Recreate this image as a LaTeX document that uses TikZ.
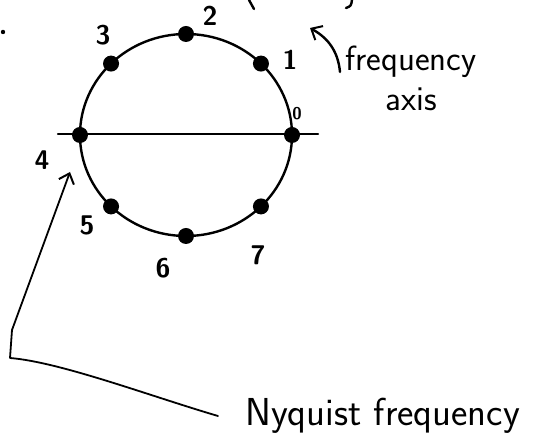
\documentclass[tikz,border=0pt]{standalone}
\usetikzlibrary{arrows.meta,calc}
\tikzset{
  pen/.style={line width=2.4pt, line cap=round, line join=round},
  thinpen/.style={line width=1.8pt, line cap=round, line join=round},
  dot/.style={circle, fill, inner sep=0pt, minimum size=16pt},
  num/.style={font=\sffamily\bfseries\fontsize{27}{29}\selectfont},
  word/.style={font=\sffamily\fontsize{35}{40}\selectfont},
  barb/.style={-{Straight Barb[length=9pt,width=16pt,line width=2pt]}},
}
\begin{document}
\begin{tikzpicture}[x=1pt,y=1pt]
\useasboundingbox (0,0) rectangle (559,446);
\coordinate (c) at (186,311);
\draw[pen] (c) ellipse (106 and 101);
\draw[pen] (58,312) -- (318,312);
\foreach \k in {0,...,7}
  \node[dot] (p\k) at ($(c)+(\k*45:106 and 101)$) {};
% sample numbers
\node[num,font=\sffamily\bfseries\fontsize{17}{19}\selectfont] (n0) at (297,332) {0};
\node[num] (n1) at (290,386) {1};
\node[num] (n2) at (210,430) {2};
\node[num] (n3) at (103,411) {3};
\node[num] (n4) at (42,286) {4};
\node[num] (n5) at (87,221) {5};
\node[num] (n6) at (163,178) {6};
\node[num] (n7) at (258,191) {7};
% bits cut off at the top
\fill (3,414) circle (2.2);
\draw[pen] (249,446) -- (254,437);
\draw[pen] (352,446) .. controls (351,440) .. (346,438);
% frequency axis
\node[word, align=center, inner sep=0pt] (axis) at (411,368) {frequency\\axis};
\coordinate (axtail) at (340,374);
\coordinate (axtip) at (310,418);
\draw[pen,barb] (axtail) .. controls (338,395) and (328,408) .. (axtip);
% nyquist
\node[word, font=\sffamily\fontsize{39}{44}\selectfont, anchor=base west, inner sep=0pt]
  (nyq) at (245,20) {Nyquist frequency};
\coordinate (nqtail) at (218,30);
\coordinate (nqtip) at (70,274);
\draw[thinpen,barb] (nqtail) .. controls (150,50) and (60,84) .. (10,88)
  -- (12,116) -- (nqtip);
\end{tikzpicture}
\end{document}
